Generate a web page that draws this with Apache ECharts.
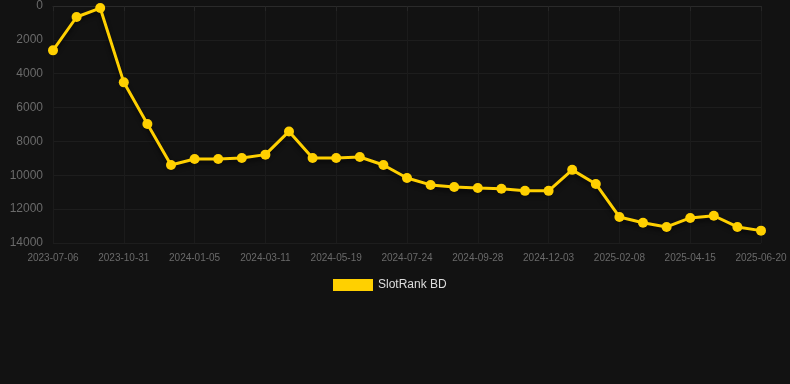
<!DOCTYPE html>
<html>
<head>
<meta charset="utf-8">
<script src="https://cdn.jsdelivr.net/npm/echarts@6/dist/echarts.min.js"></script>
<style>
html,body{margin:0;padding:0;background:#121212;}
#chart{width:790px;height:384px;}
</style>
</head>
<body>
<div id="chart"></div>
<script>
const categories = [
  '2023-07-06','2023-08-14','2023-09-22','2023-10-31','2023-11-22','2023-12-14',
  '2024-01-05','2024-01-27','2024-02-18','2024-03-11','2024-04-03','2024-04-26',
  '2024-05-19','2024-06-10','2024-07-02','2024-07-24','2024-08-15','2024-09-06',
  '2024-09-28','2024-10-20','2024-11-11','2024-12-03','2024-12-25','2025-01-17',
  '2025-02-08','2025-03-02','2025-03-24','2025-04-15','2025-05-07','2025-05-29',
  '2025-06-20'
];
const seriesName = 'SlotRank BD';
const rankValues = [
  2620, 650, 120, 4510, 6970, 9390,
  9040, 9040, 8980, 8780, 7410, 8980,
  8980, 8920, 9390, 10160, 10570, 10690,
  10750, 10800, 10920, 10920, 9680, 10510,
  12460, 12800, 13050, 12520, 12390, 13050,
  13270
];
const yMin = 0, yMax = 14000, yStep = 2000;

const chart = echarts.init(document.getElementById('chart'));
chart.setOption({
  backgroundColor: '#121212',
  animation: false,
  grid: { left: 53, right: 29, top: 6, bottom: 141, containLabel: false },
  legend: {
    data: [seriesName],
    top: 274,
    left: 328,
    icon: 'rect',
    itemWidth: 40,
    itemHeight: 12,
    itemGap: 10,
    textStyle: { color: '#dddddd', fontSize: 12, fontFamily: 'Liberation Sans, Arial, sans-serif' }
  },
  xAxis: {
    type: 'category',
    data: categories,
    boundaryGap: false,
    axisLine: { show: true, lineStyle: { color: '#2a2a2a' } },
    axisTick: { show: true, interval: 2, lineStyle: { color: '#262626' } },
    axisLabel: { interval: 2, color: '#6a6a6a', fontSize: 10, margin: 10, fontFamily: 'Liberation Sans, Arial, sans-serif' },
    splitLine: { show: true, interval: 2, lineStyle: { color: '#1b1b1b' } }
  },
  yAxis: {
    type: 'value',
    inverse: true,
    min: yMin, max: yMax, interval: yStep,
    axisLine: { show: false },
    axisTick: { show: false },
    axisLabel: { color: '#6a6a6a', fontSize: 12, margin: 10, fontFamily: 'Liberation Sans, Arial, sans-serif',
      formatter: function (v) { return String(v); } },
    splitLine: { show: true, lineStyle: { color: '#1d1d1d' } }
  },
  series: [{
    name: seriesName,
    type: 'line',
    data: rankValues,
    symbol: 'circle',
    symbolSize: 10,
    color: '#ffd000',
    lineStyle: { width: 3, color: '#ffd000', shadowColor: 'rgba(0,0,0,0.6)', shadowBlur: 4, shadowOffsetY: 3 },
    itemStyle: { color: '#ffd000' }
  }]
});
</script>
</body>
</html>
